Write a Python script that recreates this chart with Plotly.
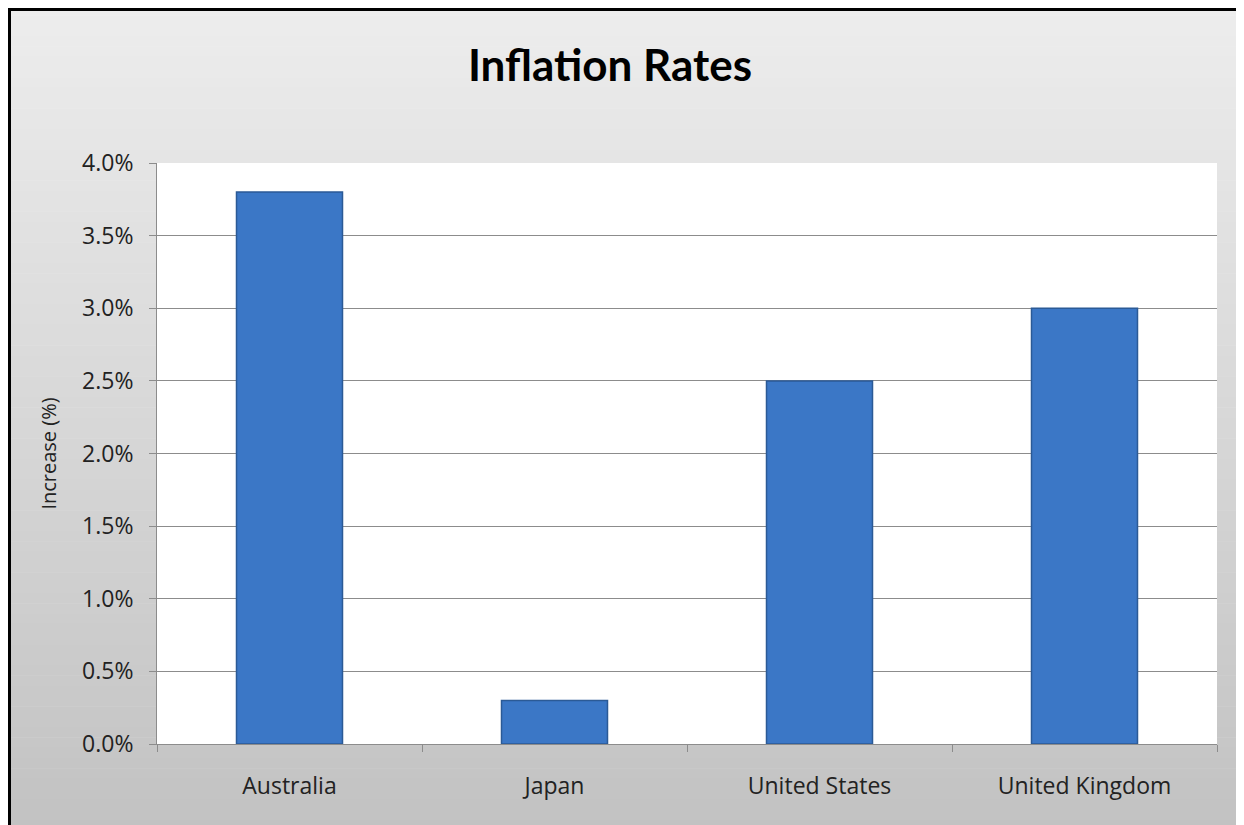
import plotly.graph_objects as go

countries = ["Australia", "Japan", "United States", "United Kingdom"]
inflation = [0.038, 0.003, 0.025, 0.030]
y_ticks = [0.0, 0.005, 0.010, 0.015, 0.020, 0.025, 0.030, 0.035, 0.040]
y_tick_labels = ["0.0%", "0.5%", "1.0%", "1.5%", "2.0%", "2.5%", "3.0%", "3.5%", "4.0%"]

OFF = 8  # page body margin
W, H = 1244 - OFF, 825 - OFF
L, T = 157 - OFF, 163 - OFF
R = W - (1217 - OFF)
B = H - (744 - OFF)
pw, ph = W - L - R, H - T - B

def px_x(px):
    return (px - OFF - L) / pw

def px_y(py):
    return (H - B - (py - OFF)) / ph

fig = go.Figure()
fig.add_trace(go.Bar(
    x=countries, y=inflation, width=0.4,
    marker=dict(color="#3b77c6", line=dict(color="#2b5a96", width=1.5)),
))

shapes = []
top_px, bot_px = 5, 830
n = 80
c_top, c_bot = 237, 194
for i in range(n):
    y0 = top_px + (bot_px - top_px) * i / n
    y1 = top_px + (bot_px - top_px) * (i + 1) / n
    c = round(c_top + (c_bot - c_top) * (i + 0.5) / n)
    shapes.append(dict(type="rect", xref="paper", yref="paper", layer="below",
                       x0=px_x(9), x1=px_x(1260), y0=px_y(y1 + 0.5), y1=px_y(y0),
                       fillcolor=f"rgb({c},{c},{c})", line=dict(width=0)))
shapes.append(dict(type="rect", xref="paper", yref="paper", layer="below",
                   x0=0, x1=1, y0=0, y1=1, fillcolor="white", line=dict(width=0)))
shapes.append(dict(type="line", xref="paper", yref="paper", layer="above",
                   x0=px_x(8), x1=px_x(1260), y0=px_y(9.5), y1=px_y(9.5),
                   line=dict(color="black", width=3)))
shapes.append(dict(type="line", xref="paper", yref="paper", layer="above",
                   x0=px_x(9.5), x1=px_x(9.5), y0=px_y(8), y1=px_y(840),
                   line=dict(color="black", width=3)))

fig.update_layout(
    width=W, height=H,
    margin=dict(l=L, r=R, t=T, b=B),
    paper_bgcolor="white", plot_bgcolor="rgba(0,0,0,0)",
    shapes=shapes,
    showlegend=False,
    font=dict(family="Open Sans, sans-serif", color="#222222"),
    title=dict(text="<b>Inflation Rates</b>", x=px_x(610), xref="paper", xanchor="center",
               y=1 - (66 - OFF) / H, yanchor="middle",
               font=dict(family="Lato, sans-serif", size=44, color="black")),
    bargap=0.6,
)
fig.update_xaxes(
    showgrid=False, showline=True, linecolor="#8c8c8c", linewidth=1,
    ticks="outside", tickson="boundaries", ticklen=7, tickcolor="#8c8c8c",
    tickfont=dict(size=23, color="#222222"), ticklabelstandoff=21,
)
fig.update_yaxes(
    range=[0, 0.04], tickvals=y_ticks, ticktext=y_tick_labels,
    showgrid=True, gridcolor="#8c8c8c", gridwidth=1,
    showline=True, linecolor="#8c8c8c", linewidth=1,
    ticks="outside", ticklen=7, tickcolor="#8c8c8c",
    tickfont=dict(size=23, color="#222222"), zeroline=False, ticklabelstandoff=11,
    title=dict(text="Increase (%)", font=dict(size=20, color="#222222"), standoff=20),
)
fig.write_html("out.html")
